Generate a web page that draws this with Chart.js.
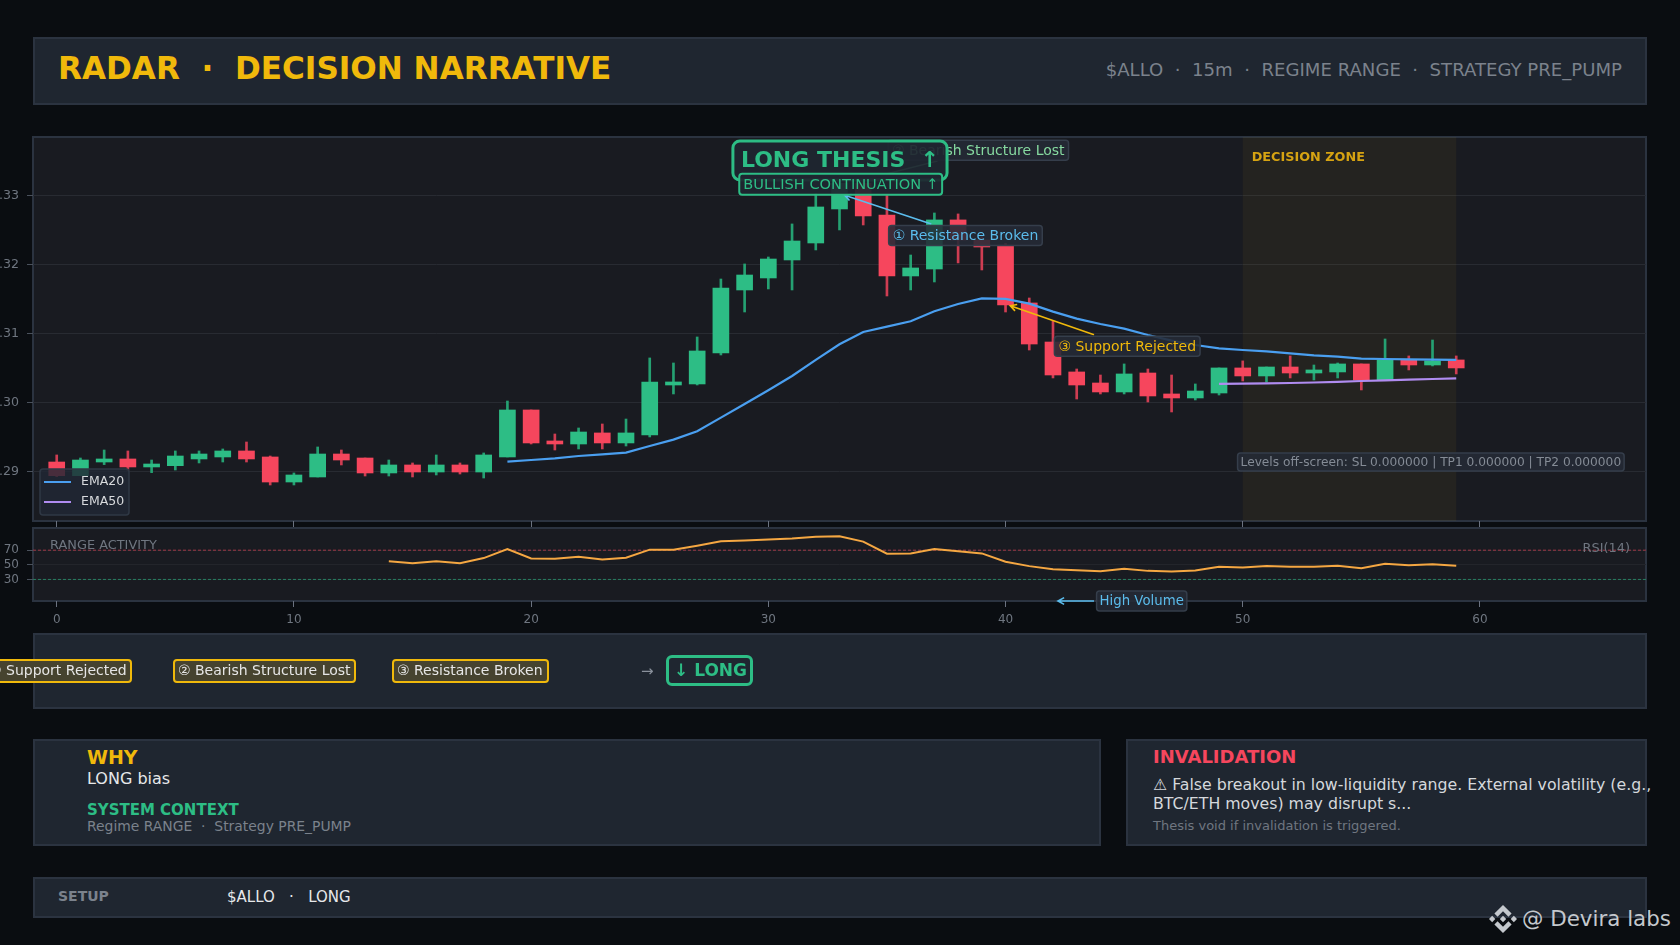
<!DOCTYPE html>
<html>
<head>
<meta charset="utf-8">
<title>Radar Decision Narrative</title>
<script src="https://cdn.jsdelivr.net/npm/chart.js@4"></script>
<style>
html, body { margin: 0; padding: 0; width: 1680px; height: 945px; overflow: hidden; background: #0a0d11; font-family: "DejaVu Sans", sans-serif; }
.panel { position: absolute; box-sizing: border-box; background: #1f2630; border: 2px solid #2b3340; }
.chart-panel { background: #191b21; }
.txt { position: absolute; white-space: pre; }
.chip { position: absolute; box-sizing: border-box; top: 659px; height: 24px; line-height: 19px; background: #46432f; border: 2px solid #f0b90b; border-radius: 4px; color: #e6e6e6; font-size: 14px; white-space: pre; padding-left: 3px; }
canvas { position: absolute; left: 0; }
</style>
</head>
<body>
<div class="panel" style="left:33px;top:37px;width:1614px;height:68px"></div>
<div class="txt" style="left:58px;top:46px;line-height:44px;font-size:31.1px;font-weight:bold;color:#f0b90b">RADAR  ·  DECISION NARRATIVE</div>
<div class="txt" style="right:58px;top:58px;line-height:24px;font-size:18.1px;color:#7b828c">$ALLO  ·  15m  ·  REGIME RANGE  ·  STRATEGY PRE_PUMP</div>

<div class="panel chart-panel" style="left:32px;top:136px;width:1615px;height:386px"></div>
<div class="panel chart-panel" style="left:32px;top:527px;width:1615px;height:75px"></div>
<canvas id="priceChart" style="top:130px" width="1680" height="400"></canvas>
<canvas id="rsiChart" style="top:520px" width="1680" height="120"></canvas>

<div class="panel" style="left:33px;top:633px;width:1614px;height:76px"></div>
<div class="chip" style="left:-16px;width:148px">① Support Rejected</div>
<div class="chip" style="left:173px;width:183px">② Bearish Structure Lost</div>
<div class="chip" style="left:392px;width:157px">③ Resistance Broken</div>
<div class="txt" style="left:641px;top:659px;line-height:24px;font-size:15px;color:#8a919c">→</div>
<div class="txt" style="left:666px;top:655px;box-sizing:border-box;width:87px;height:31px;line-height:25px;border:3px solid #2dbd85;border-radius:6px;padding-left:5px;font-size:17px;font-weight:bold;color:#2dbd85">↓ LONG</div>

<div class="panel" style="left:33px;top:739px;width:1068px;height:107px"></div>
<div class="txt" style="left:87px;top:745px;line-height:24px;font-size:19px;font-weight:bold;color:#f0b90b">WHY</div>
<div class="txt" style="left:87px;top:768px;line-height:22px;font-size:16px;color:#e6e8ea">LONG bias</div>
<div class="txt" style="left:87px;top:800px;line-height:20px;font-size:15px;font-weight:bold;color:#2dbd85">SYSTEM CONTEXT</div>
<div class="txt" style="left:87px;top:816px;line-height:20px;font-size:13.9px;color:#7b828c">Regime RANGE  ·  Strategy PRE_PUMP</div>

<div class="panel" style="left:1126px;top:739px;width:521px;height:107px"></div>
<div class="txt" style="left:1153px;top:745px;line-height:24px;font-size:18px;font-weight:bold;color:#f6465d">INVALIDATION</div>
<div class="txt" style="left:1153px;top:774px;line-height:22px;font-size:15.75px;color:#d5d8dc">⚠ False breakout in low-liquidity range. External volatility (e.g.,</div>
<div class="txt" style="left:1153px;top:793px;line-height:22px;font-size:15.75px;color:#d5d8dc">BTC/ETH moves) may disrupt s...</div>
<div class="txt" style="left:1153px;top:817px;line-height:18px;font-size:13px;color:#6f7680">Thesis void if invalidation is triggered.</div>

<div class="panel" style="left:33px;top:877px;width:1614px;height:41px"></div>
<div class="txt" style="left:58px;top:886px;line-height:20px;font-size:14px;font-weight:bold;color:#7b828c">SETUP</div>
<div class="txt" style="left:227px;top:886px;line-height:22px;font-size:15px;color:#e6e8ea">$ALLO   ·   LONG</div>

<svg style="position:absolute;left:1489px;top:905px" width="28" height="28" viewBox="0 0 126.61 126.61" fill="#c4c8cd"><path d="M38.73 53.2l24.59-24.58 24.6 24.6 14.3-14.31L63.32 0 24.43 38.9zM0 63.31l14.3-14.31 14.31 14.31-14.31 14.3zM38.73 73.41l24.59 24.59 24.6-24.6 14.31 14.29-38.9 38.91-38.91-38.88zM98 63.31l14.3-14.31 14.31 14.3-14.31 14.32zM77.83 63.3L63.32 48.78 52.59 59.51l-1.24 1.23-2.54 2.54 14.51 14.5 14.51-14.52z"/></svg>
<div class="txt" style="left:1522px;top:902px;line-height:34px;font-size:21.4px;color:#c4c8cd">@ Devira labs</div>

<script>
// OHLC, one entry per 15m bar
const opens = [0.29135, 0.28937, 0.29135, 0.29179, 0.29063, 0.29082, 0.29179, 0.29208, 0.29295, 0.29208,
    0.28845, 0.28918, 0.29251, 0.29193, 0.28976, 0.29092, 0.2899, 0.29092, 0.2899, 0.29208,
    0.29889, 0.2944, 0.29396, 0.29556, 0.29411, 0.29527, 0.30251, 0.30266, 0.30715, 0.31628,
    0.31802, 0.32063, 0.32309, 0.32802, 0.33174, 0.32715, 0.31831, 0.31932, 0.32643, 0.32353,
    0.3228, 0.3144, 0.30874, 0.3044, 0.3028, 0.3015, 0.30425, 0.30121, 0.30063, 0.30135,
    0.30498, 0.30382, 0.30512, 0.30425, 0.3044, 0.30556, 0.30324, 0.30614, 0.30541, 0.30614];
const highs = [0.29237, 0.29193, 0.29309, 0.29295, 0.29164, 0.29295, 0.29295, 0.29324, 0.29425, 0.29222,
    0.28976, 0.29353, 0.29309, 0.29193, 0.29164, 0.29121, 0.29237, 0.29121, 0.29266, 0.30019,
    0.29889, 0.29541, 0.29628, 0.29686, 0.29758, 0.30643, 0.3057, 0.30947, 0.31787, 0.32005,
    0.32106, 0.32585, 0.33029, 0.33319, 0.33271, 0.33005, 0.32135, 0.32744, 0.3273, 0.32401,
    0.32304, 0.31512, 0.31179, 0.30483, 0.30396, 0.30556, 0.30483, 0.30396, 0.30266, 0.30498,
    0.306, 0.30512, 0.30672, 0.30541, 0.3057, 0.30556, 0.30918, 0.30672, 0.30903, 0.30672];
const lows = [0.28923, 0.28937, 0.29097, 0.29019, 0.28981, 0.29019, 0.29121, 0.29135, 0.29135, 0.28802,
    0.28802, 0.28918, 0.29092, 0.28932, 0.28932, 0.28918, 0.28947, 0.28961, 0.28903, 0.29208,
    0.29396, 0.29309, 0.29324, 0.29324, 0.29367, 0.29498, 0.30121, 0.30251, 0.30686, 0.31309,
    0.31643, 0.31628, 0.32208, 0.32498, 0.3257, 0.31541, 0.31628, 0.31744, 0.3202, 0.31918,
    0.31309, 0.30758, 0.30353, 0.30048, 0.30121, 0.30121, 0.30005, 0.2986, 0.30034, 0.30106,
    0.30309, 0.30295, 0.30353, 0.30324, 0.30353, 0.30179, 0.30324, 0.30469, 0.30527, 0.30411];
const closes = [0.28937, 0.29164, 0.29179, 0.29063, 0.29106, 0.29222, 0.29251, 0.29295, 0.29179, 0.28845,
    0.28947, 0.29251, 0.29164, 0.28976, 0.29092, 0.2899, 0.29092, 0.2899, 0.29237, 0.29889,
    0.29411, 0.29396, 0.2957, 0.29411, 0.29556, 0.30295, 0.30295, 0.30744, 0.31657, 0.31845,
    0.32077, 0.32338, 0.32831, 0.33174, 0.32701, 0.31831, 0.31947, 0.32643, 0.32353, 0.32251,
    0.31411, 0.30845, 0.30396, 0.30251, 0.3015, 0.30411, 0.30092, 0.30063, 0.30164, 0.30498,
    0.30382, 0.30512, 0.30425, 0.30469, 0.30556, 0.30324, 0.30614, 0.30541, 0.306, 0.30498];

const ema20 = [null, null, null, null, null, null, null, null, null, null,
    null, null, null, null, null, null, null, null, null, 0.2914,
    0.29164, 0.29188, 0.29222, 0.29246, 0.29271, 0.29367, 0.29459, 0.2958, 0.29778, 0.29976,
    0.30174, 0.30382, 0.30614, 0.30841, 0.31019, 0.31097, 0.31174, 0.31319, 0.31425, 0.31507,
    0.31498, 0.3143, 0.31314, 0.31213, 0.31135, 0.31068, 0.30976, 0.30894, 0.30831, 0.30783,
    0.30758, 0.30739, 0.3071, 0.30681, 0.30662, 0.30633, 0.30628, 0.30623, 0.30618, 0.30614];
const ema50 = [null, null, null, null, null, null, null, null, null, null,
    null, null, null, null, null, null, null, null, null, null,
    null, null, null, null, null, null, null, null, null, null,
    null, null, null, null, null, null, null, null, null, null,
    null, null, null, null, null, null, null, null, null, 0.30266,
    0.30271, 0.30275, 0.3028, 0.30287, 0.30295, 0.30309, 0.30319, 0.30329, 0.30338, 0.30348];
const rsi = [null, null, null, null, null, null, null, null, null, null,
    null, null, null, null, 55, 52.3, 55, 52.3, 59.2, 71.6,
    58.7, 58.3, 61, 57.4, 59.7, 70.7, 70.7, 76.2, 82.2, 83.1,
    84.5, 85.9, 88.2, 89, 81.7, 65.2, 65.6, 71.6, 68.4, 65.6,
    54.1, 48.2, 44, 42.6, 41.3, 44.5, 41.7, 40.8, 42.2, 47.2,
    46.3, 48.2, 47.2, 47.2, 48.6, 45.4, 51.4, 49.5, 50.9, 48.6];

const priceTicks = [0.29, 0.30, 0.31, 0.32, 0.33];
const rsiTicks = [30, 50, 70];
const legendNames = ['EMA20', 'EMA50'];

document.addEventListener('DOMContentLoaded', function() {
    const GREEN = '#2dbd85';
    const RED = '#f6465d';
    const BLUE = '#4a9ff0';
    const PURPLE = '#b08cf0';
    const ORANGE = '#f5a742';
    const CYAN = '#5bbcec';
    const YELLOW = '#f0b90b';
    const FONT = '"DejaVu Sans"';

    Chart.defaults.font.family = FONT;
    Chart.defaults.animation = false;

    const isUp = opens.map((o, i) => closes[i] >= o);

    function points(values) {
        return values.map((v, i) => ({ x: i, y: v }));
    }

    // keep the plot area fixed, no room reserved for tick label overhang
    function noPadding(axis) {
        axis.paddingTop = 0;
        axis.paddingBottom = 0;
        axis.paddingLeft = 0;
        axis.paddingRight = 0;
    }

    function roundRect(ctx, x, y, w, h, r, fill, stroke, lineWidth) {
        ctx.beginPath();
        ctx.roundRect(x, y, w, h, r);
        ctx.fillStyle = fill;
        ctx.fill();
        ctx.strokeStyle = stroke;
        ctx.lineWidth = lineWidth;
        ctx.stroke();
    }

    // text box centred on a data position
    function drawBox(ctx, chart, box) {
        const cx = chart.scales.x.getPixelForValue(box.x);
        const cy = chart.scales.y.getPixelForValue(box.y);
        ctx.save();
        ctx.font = box.font;
        const w = ctx.measureText(box.text).width + box.padX * 2;
        roundRect(ctx, cx - w / 2, cy - box.h / 2, w, box.h, box.radius, box.fill, box.border, box.lineWidth);
        ctx.fillStyle = box.color;
        ctx.textAlign = 'center';
        ctx.textBaseline = 'middle';
        ctx.fillText(box.text, cx, cy + 1);
        ctx.restore();
    }

    function drawArrow(ctx, chart, a) {
        const x0 = chart.scales.x.getPixelForValue(a.fromX);
        const y0 = chart.scales.y.getPixelForValue(a.fromY);
        const x1 = chart.scales.x.getPixelForValue(a.toX);
        const y1 = chart.scales.y.getPixelForValue(a.toY);
        const ang = Math.atan2(y1 - y0, x1 - x0);
        ctx.save();
        ctx.strokeStyle = a.color;
        ctx.lineWidth = 1.6;
        ctx.beginPath();
        ctx.moveTo(x0, y0);
        ctx.lineTo(x1, y1);
        ctx.moveTo(x1 - 7 * Math.cos(ang - 0.5), y1 - 7 * Math.sin(ang - 0.5));
        ctx.lineTo(x1, y1);
        ctx.lineTo(x1 - 7 * Math.cos(ang + 0.5), y1 - 7 * Math.sin(ang + 0.5));
        ctx.stroke();
        ctx.restore();
    }

    const labelFill = 'rgba(36,42,54,0.88)';
    const labelBorder = '#353e4b';
    const labelFont = '14px ' + FONT;

    // Decision zone goes under the candles
    const zonePlugin = {
        id: 'zone',
        beforeDatasetsDraw(chart) {
            const ctx = chart.ctx;
            const area = chart.chartArea;
            const left = chart.scales.x.getPixelForValue(50);
            const right = chart.scales.x.getPixelForValue(59);
            ctx.save();
            ctx.fillStyle = 'rgba(240,185,11,0.055)';
            ctx.fillRect(left, area.top, right - left, area.bottom - area.top);
            ctx.fillStyle = '#d6a312';
            ctx.font = 'bold 12.8px ' + FONT;
            ctx.textBaseline = 'middle';
            ctx.fillText('DECISION ZONE', left + 9, area.top + 21);
            ctx.restore();
        }
    };

    const annotationPlugin = {
        id: 'annotations',
        afterDatasetsDraw(chart) {
            const ctx = chart.ctx;

            // arrows first, the label boxes sit on their tails
            drawArrow(ctx, chart, { fromX: 37.13, fromY: 0.33497, toX: 34.3, toY: 0.3325, color: '#6fcf97' });
            drawBox(ctx, chart, { text: '② Bearish Structure Lost', x: 38.85, y: 0.33652, font: labelFont, color: '#86d9a0', fill: labelFill, border: labelBorder, padX: 4, h: 20, radius: 3, lineWidth: 1.5 });
            drawArrow(ctx, chart, { fromX: 36.87, fromY: 0.32584, toX: 33.22, toY: 0.33, color: CYAN });
            drawBox(ctx, chart, { text: '① Resistance Broken', x: 38.31, y: 0.32416, font: labelFont, color: CYAN, fill: labelFill, border: labelBorder, padX: 4, h: 20, radius: 3, lineWidth: 1.5 });
            drawArrow(ctx, chart, { fromX: 43.73, fromY: 0.3098, toX: 40.2, toY: 0.314, color: YELLOW });
            drawBox(ctx, chart, { text: '③ Support Rejected', x: 45.13, y: 0.30812, font: labelFont, color: YELLOW, fill: labelFill, border: labelBorder, padX: 4, h: 20, radius: 3, lineWidth: 1.5 });
            drawBox(ctx, chart, { text: 'Levels off-screen: SL 0.000000 | TP1 0.000000 | TP2 0.000000', x: 57.93, y: 0.29135, font: '12.2px ' + FONT, color: '#858c96', fill: labelFill, border: labelBorder, padX: 3, h: 18, radius: 3, lineWidth: 1.5 });

            drawBox(ctx, chart, { text: 'LONG THESIS  ↑', x: 33.02, y: 0.33505, font: 'bold 22px ' + FONT, color: GREEN, fill: 'rgba(31,38,48,0.93)', border: GREEN, padX: 8, h: 39, radius: 7, lineWidth: 3 });
            drawBox(ctx, chart, { text: 'BULLISH CONTINUATION ↑', x: 33.05, y: 0.33161, font: '14.6px ' + FONT, color: GREEN, fill: 'rgba(31,38,48,0.93)', border: GREEN, padX: 4, h: 21, radius: 3, lineWidth: 2 });

            // legend
            const area = chart.chartArea;
            const lx = area.left + 7;
            const ly = area.bottom - 52;
            ctx.save();
            roundRect(ctx, lx, ly, 89, 46, 3, 'rgba(33,40,52,0.82)', '#2f3845', 1.5);
            [BLUE, PURPLE].forEach((color, i) => {
                const y = ly + 13 + i * 20;
                ctx.strokeStyle = color;
                ctx.lineWidth = 2;
                ctx.beginPath();
                ctx.moveTo(lx + 4, y);
                ctx.lineTo(lx + 31, y);
                ctx.stroke();
                ctx.fillStyle = '#d8dadd';
                ctx.font = '12.5px ' + FONT;
                ctx.textBaseline = 'middle';
                ctx.fillText(legendNames[i], lx + 41, y);
            });
            ctx.restore();
        }
    };

    const priceChart = new Chart(document.getElementById('priceChart').getContext('2d'), {
        type: 'bar',
        data: {
            datasets: [
                {
                    label: 'Wicks',
                    data: lows.map((l, i) => ({ x: i, y: [l, highs[i]] })),
                    backgroundColor: isUp.map(up => up ? '#25a172' : '#cf3d52'),
                    barThickness: 2,
                    grouped: false,
                    order: 4
                },
                {
                    label: 'Bodies',
                    data: opens.map((o, i) => ({ x: i, y: [o, closes[i]] })),
                    backgroundColor: isUp.map(up => up ? GREEN : RED),
                    barThickness: 16,
                    grouped: false,
                    order: 3
                },
                {
                    type: 'line',
                    label: 'EMA50',
                    data: points(ema50),
                    borderColor: PURPLE,
                    borderWidth: 2.2,
                    pointRadius: 0,
                    tension: 0,
                    order: 2
                },
                {
                    type: 'line',
                    label: 'EMA20',
                    data: points(ema20),
                    borderColor: BLUE,
                    borderWidth: 2.2,
                    pointRadius: 0,
                    tension: 0,
                    order: 1
                }
            ]
        },
        options: {
            responsive: false,
            layout: { padding: { top: 7, right: 34, left: 0, bottom: 0 } },
            scales: {
                x: {
                    type: 'linear',
                    offset: false,
                    min: -1,
                    max: 67,
                    border: { display: false },
                    grid: { drawOnChartArea: false, tickLength: 6, tickColor: '#6b7280', offset: false },
                    ticks: { stepSize: 10, includeBounds: false, autoSkip: false, maxRotation: 0, callback: () => '' },
                    afterFit(axis) { axis.height = 9; noPadding(axis); }
                },
                y: {
                    min: 0.2828,
                    max: 0.33845,
                    border: { display: false },
                    grid: { color: '#282b32', lineWidth: 1, tickLength: 6, tickColor: '#4a515c' },
                    afterBuildTicks(axis) { axis.ticks = priceTicks.map(v => ({ value: v })); },
                    ticks: { color: '#6f7680', font: { size: 12.6 }, padding: 8, callback: v => v.toFixed(2) },
                    afterFit(axis) { axis.width = 33; noPadding(axis); }
                }
            },
            plugins: { legend: { display: false }, tooltip: { enabled: false } }
        },
        plugins: [zonePlugin, annotationPlugin]
    });

    // RSI panel under the price chart
    const rsiPlugin = {
        id: 'rsiLabels',
        afterDatasetsDraw(chart) {
            const ctx = chart.ctx;
            const area = chart.chartArea;
            ctx.save();
            ctx.fillStyle = '#6f7680';
            ctx.font = '12.9px ' + FONT;
            ctx.textBaseline = 'middle';
            ctx.fillText('RANGE ACTIVITY', area.left + 17, area.top + 19);
            ctx.textAlign = 'right';
            ctx.fillText('RSI(14)', area.right - 16, area.top + 22);
            ctx.restore();
            drawArrow(ctx, chart, { fromX: 43.73, fromY: 0.5, toX: 42.21, toY: 0.5, color: CYAN });
            drawBox(ctx, chart, { text: 'High Volume', x: 45.74, y: 0.5, font: '13.3px ' + FONT, color: CYAN, fill: labelFill, border: labelBorder, padX: 3, h: 20, radius: 3, lineWidth: 1.5 });
        }
    };

    const rsiChart = new Chart(document.getElementById('rsiChart').getContext('2d'), {
        type: 'line',
        data: {
            datasets: [
                {
                    label: 'RSI(14)',
                    data: points(rsi),
                    borderColor: ORANGE,
                    borderWidth: 2,
                    pointRadius: 0,
                    tension: 0,
                    order: 1
                },
                {
                    label: '70',
                    data: [{ x: -1, y: 70 }, { x: 67, y: 70 }],
                    borderColor: 'rgba(246,70,93,0.6)',
                    borderWidth: 1,
                    borderDash: [3, 2],
                    pointRadius: 0,
                    order: 2
                },
                {
                    label: '30',
                    data: [{ x: -1, y: 30 }, { x: 67, y: 30 }],
                    borderColor: 'rgba(45,189,133,0.6)',
                    borderWidth: 1,
                    borderDash: [3, 2],
                    pointRadius: 0,
                    order: 2
                }
            ]
        },
        options: {
            responsive: false,
            layout: { padding: { top: 7, right: 34, left: 0, bottom: 0 } },
            scales: {
                x: {
                    type: 'linear',
                    min: -1,
                    max: 67,
                    border: { display: false },
                    grid: { drawOnChartArea: false, tickLength: 6, tickColor: '#6b7280' },
                    ticks: { stepSize: 10, includeBounds: false, autoSkip: false, maxRotation: 0, color: '#6f7680', font: { size: 12 }, padding: 6, callback: v => v },
                    afterFit(axis) { axis.height = 39; noPadding(axis); }
                },
                y: {
                    min: 0.5,
                    max: 101.7,
                    border: { display: false },
                    grid: { color: '#23252b', tickLength: 6, tickColor: '#4a515c' },
                    afterBuildTicks(axis) { axis.ticks = rsiTicks.map(v => ({ value: v })); },
                    ticks: { color: '#6f7680', font: { size: 12 }, padding: 8, callback: v => v },
                    afterFit(axis) { axis.width = 33; noPadding(axis); }
                }
            },
            plugins: { legend: { display: false }, tooltip: { enabled: false } }
        },
        plugins: [rsiPlugin]
    });
});
</script>
</body>
</html>
